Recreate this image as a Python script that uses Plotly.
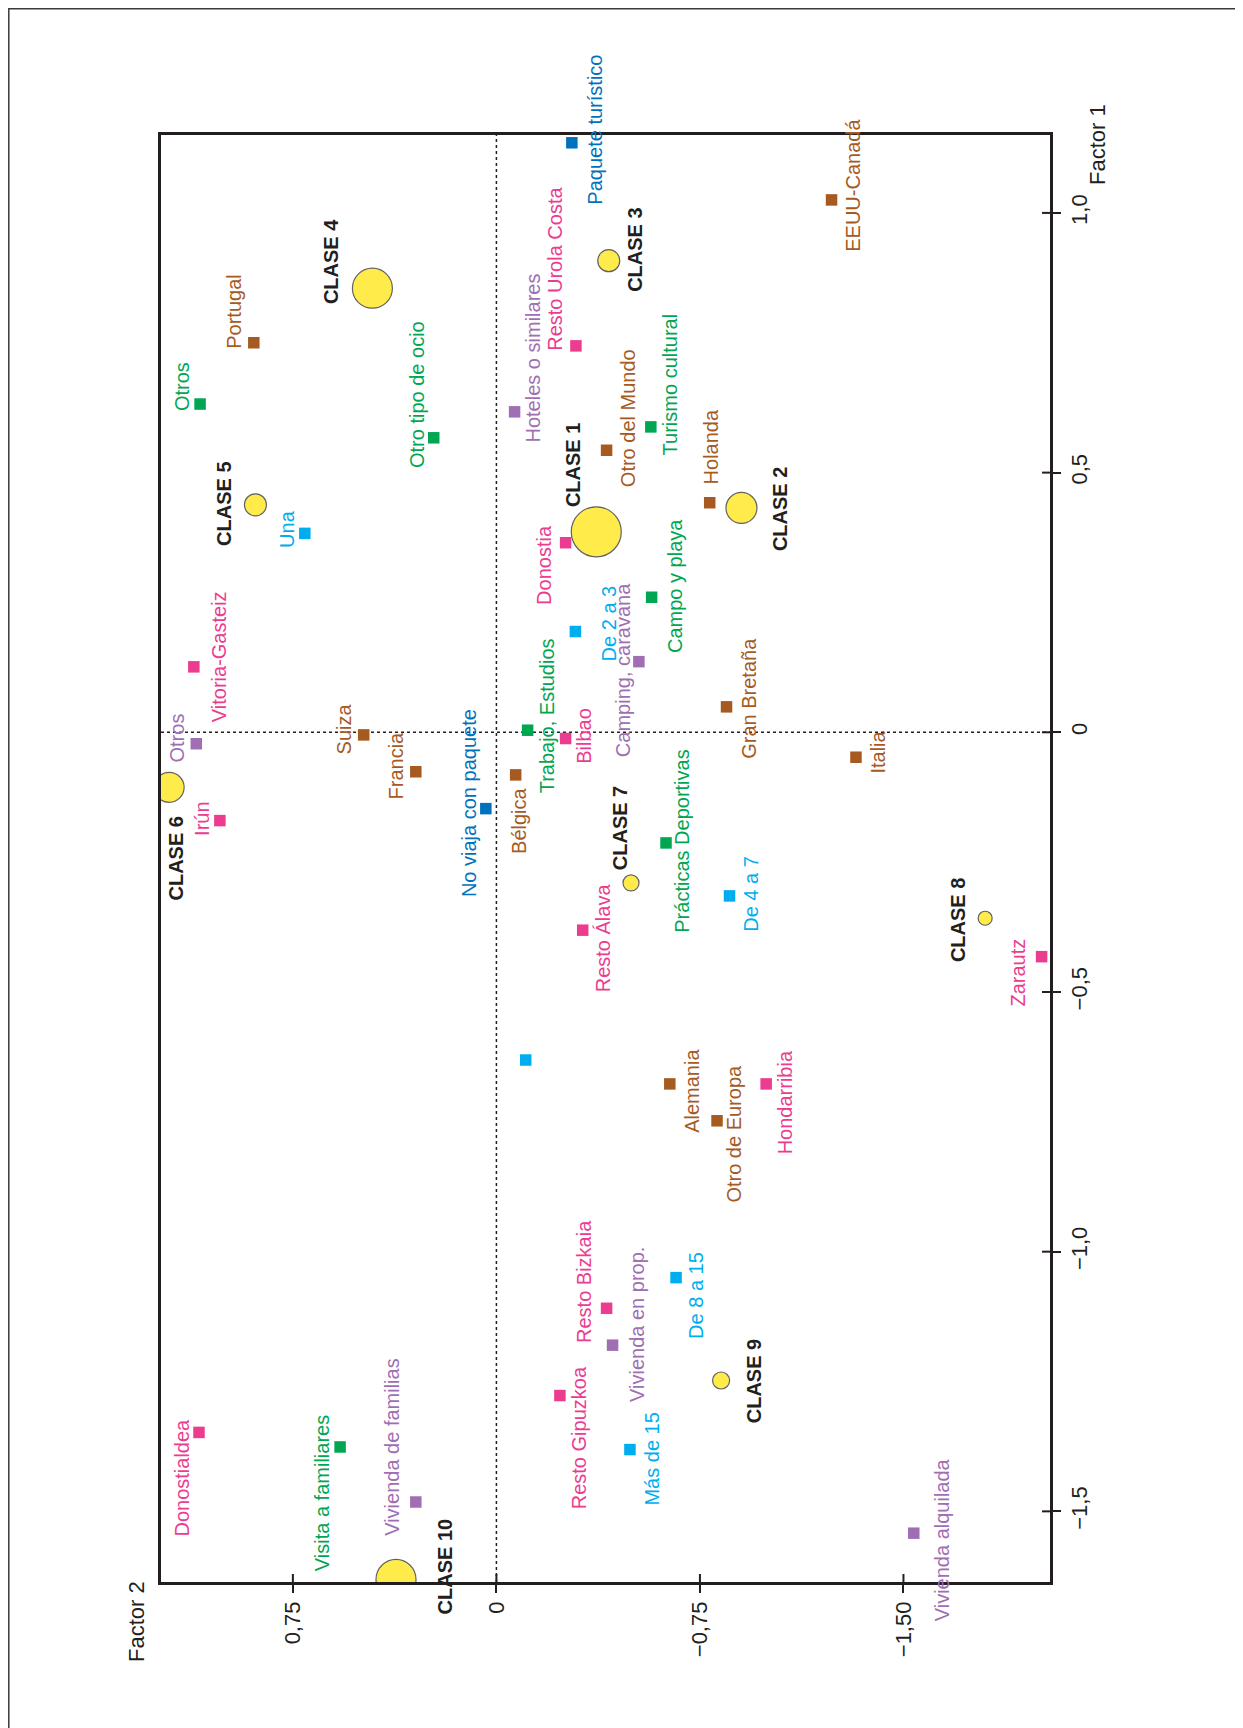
import plotly.graph_objects as go

# ---------------- data ----------------
mod_names = ["Paquete turístico", "Portugal", "Otros", "Otro tipo de ocio", "Hoteles o similares",
             "Resto Urola Costa", "Otro del Mundo", "EEUU-Canadá", "Turismo cultural", "Holanda",
             "Una", "Donostia", "De 2 a 3", "Camping, caravana", "Campo y playa",
             "Vitoria-Gasteiz", "Otros", "Suiza", "Francia", "Irún",
             "No viaja con paquete", "Bélgica", "Trabajo, Estudios", "Bilbao", "Resto Álava",
             "Prácticas Deportivas", "Gran Bretaña", "Italia", "De 4 a 7", "Zarautz",
             "", "Resto Bizkaia", "Vivienda en prop.", "Resto Gipuzkoa", "Alemania",
             "Otro de Europa", "Hondarribia", "De 8 a 15", "Donostialdea", "Visita a familiares",
             "Vivienda de familias", "Más de 15", "Vivienda alquilada"]
mod_factor1 = [1.135, 0.750, 0.632, 0.567, 0.617,
               0.744, 0.543, 1.025, 0.588, 0.442,
               0.383, 0.365, 0.194, 0.136, 0.260,
               0.126, -0.022, -0.005, -0.076, -0.170,
               -0.147, -0.082, 0.004, -0.012, -0.381,
               -0.213, 0.049, -0.048, -0.315, -0.432,
               -0.631, -1.109, -1.180, -1.277, -0.677,
               -0.748, -0.677, -1.050, -1.348, -1.376,
               -1.482, -1.381, -1.542]
mod_factor2 = [-0.278, 0.894, 1.092, 0.231, -0.067,
               -0.293, -0.406, -1.235, -0.569, -0.786,
               0.706, -0.255, -0.291, -0.525, -0.572,
               1.115, 1.106, 0.489, 0.297, 1.019,
               0.039, -0.071, -0.115, -0.255, -0.318,
               -0.625, -0.848, -1.325, -0.859, -2.009,
               -0.108, -0.406, -0.428, -0.234, -0.639,
               -0.813, -0.994, -0.662, 1.096, 0.576,
               0.297, -0.492, -1.538]
mod_group = ["paquete", "destino", "motivo", "motivo", "alojamiento",
             "origen", "destino", "destino", "motivo", "destino",
             "noches", "origen", "noches", "alojamiento", "motivo",
             "origen", "alojamiento", "destino", "destino", "origen",
             "paquete", "destino", "motivo", "origen", "origen",
             "motivo", "destino", "destino", "noches", "origen",
             "noches", "origen", "alojamiento", "origen", "destino",
             "destino", "origen", "noches", "origen", "motivo",
             "alojamiento", "noches", "alojamiento"]

class_names = ["CLASE 1", "CLASE 2", "CLASE 3", "CLASE 4", "CLASE 5",
               "CLASE 6", "CLASE 7", "CLASE 8", "CLASE 9", "CLASE 10"]
class_factor1 = [0.386, 0.432, 0.908, 0.855, 0.438, -0.106, -0.290, -0.358, -1.248, -1.631]
class_factor2 = [-0.368, -0.903, -0.414, 0.457, 0.888, 1.206, -0.496, -1.801, -0.828, 0.370]
class_weight = [50, 31, 22, 40, 22, 30, 16, 14, 17, 40]

f1_ticks = [1.0, 0.5, 0.0, -0.5, -1.0, -1.5]
f1_ticktext = ["1,0", "0,5", "0", "\u22120,5", "\u22121,0", "\u22121,5"]
f2_ticks = [0.75, 0.0, -0.75, -1.5]
f2_ticktext = ["0,75", "0", "\u22120,75", "\u22121,50"]

# ---------------- styles ----------------
group_colors = {"paquete": "#0071BC", "destino": "#A65A1F", "motivo": "#00A651",
                "alojamiento": "#A06EB2", "origen": "#EC3C8F", "noches": "#00AEEF"}
# label offsets (px): dx, dy, anchor ('b' = text starts at dy, 't' = text top at dy)
mod_label_pos = [(23, 63, 'b'), (-20.6, 7.3, 'b'), (-18.2, 7.7, 'b'), (-16.6, 31.6, 'b'), (18.6, 32, 'b'),
                 (-21.7, 5.7, 'b'), (21.3, 38, 'b'), (21.8, 53, 'b'), (18.7, 30, 'b'), (1, -17.5, 'b'),
                 (-18, 15.7, 'b'), (-21.7, 63.3, 'b'), (33.5, 31, 'b'), (-16.4, 96, 'b'), (23.4, 56.7, 'b'),
                 (26, 56, 'b'), (-19.7, 19.7, 'b'), (-20, 20.3, 'b'), (-19.4, 28.3, 'b'), (-18.6, 16, 'b'),
                 (-17, 89.6, 'b'), (3.4, 12, 't'), (19, 64, 'b'), (18.4, 26.3, 'b'), (20.2, 62.7, 'b'),
                 (16, 91.3, 'b'), (22.2, 52.7, 'b'), (22.2, 17.7, 'b'), (21.4, 37, 'b'), (-24, 51.3, 'b'),
                 (0, 0, 'b'), (-22.7, 35.3, 'b'), (23.7, 58, 'b'), (19, 114.3, 'b'), (21.5, 49.6, 'b'),
                 (17.2, 82.6, 'b'), (19, 71.3, 'b'), (20, 62.7, 'b'), (-16.6, 104.7, 'b'), (-17.9, 125, 'b'),
                 (-24, 35, 'b'), (22.6, 57, 'b'), (27.8, 89, 'b')]
class_label_pos = [(-23, -24, 'b'), (38, 43.7, 'b'), (26.4, 32, 'b'), (-40.7, 16.7, 'b'), (-32, 41.7, 'b'),
                   (7, 28, 't'), (-10.7, -12, 'b'), (-27, 44.7, 'b'), (33.7, 44, 'b'), (49, 36, 'b')]

FONT = "Liberation Sans, Arial, Helvetica, sans-serif"
INK = "#231F20"
W, H = 1235, 1720          # page has an 8px body margin
ML, MR, MT, MB = 153, 193, 127, 146
PW, PH = W - ML - MR, H - MT - MB

fig = go.Figure()

# reference dotted lines at 0
fig.add_shape(type="line", xref="x", yref="paper", x0=0, x1=0, y0=0, y1=1,
              line=dict(color=INK, width=1.5, dash="dot"), layer="below")
fig.add_shape(type="line", xref="paper", yref="y", x0=0, x1=1, y0=0, y1=0,
              line=dict(color=INK, width=1.5, dash="dot"), layer="below")

fig.add_trace(go.Scatter(
    x=mod_factor2, y=mod_factor1, mode="markers",
    marker=dict(symbol="square", size=11.5, color=[group_colors[g] for g in mod_group],
                line=dict(width=0)),
    hovertext=mod_names, showlegend=False))

fig.add_trace(go.Scatter(
    x=class_factor2, y=class_factor1, mode="markers",
    marker=dict(symbol="circle", size=class_weight, color="#FFE500",
                line=dict(width=1.2, color=INK)),
    hovertext=class_names, showlegend=False, cliponaxis=True))

def add_label(txt, xv, yv, pos, color, bold=False):
    if not txt:
        return
    dx, dy, anc = pos
    fig.add_annotation(x=xv, y=yv, xref="x", yref="y", text=("<b>%s</b>" % txt) if bold else txt,
                       showarrow=False, textangle=-90, xanchor="center",
                       yanchor="bottom" if anc == "b" else "top",
                       xshift=dx, yshift=-dy, borderpad=0,
                       font=dict(family=FONT, size=20, color=color))

for n, f1, f2, g, p in zip(mod_names, mod_factor1, mod_factor2, mod_group, mod_label_pos):
    add_label(n, f2, f1, p, group_colors[g])
for n, f1, f2, p in zip(class_names, class_factor1, class_factor2, class_label_pos):
    add_label(n, f2, f1, p, INK, bold=True)

# inner halves of the cross ticks
for v in f2_ticks:
    fig.add_shape(type="line", xref="x", yref="paper", x0=v, x1=v, y0=0, y1=8,
                  ysizemode="pixel", yanchor=0, line=dict(color=INK, width=2))
for v in f1_ticks:
    fig.add_shape(type="line", xref="paper", yref="y", y0=v, y1=v, x0=-8, x1=0,
                  xsizemode="pixel", xanchor=1, line=dict(color=INK, width=2))

# outer frame (open at the bottom of the page)
fig.add_shape(type="rect", xref="paper", yref="paper",
              x0=(0.8 - ML) / PW, x1=(1232.6 - ML) / PW,
              y0=(H - MB - 1745) / PH, y1=(H - MB - 0.8) / PH,
              line=dict(color="#3A3A3A", width=1.5), fillcolor="rgba(0,0,0,0)")

# axis titles
fig.add_annotation(xref="paper", yref="paper", x=1, y=1, xshift=47, yshift=-10,
                   text="Factor 1", textangle=-90, showarrow=False, xanchor="center", yanchor="middle",
                   font=dict(family=FONT, size=22, color=INK))
fig.add_annotation(xref="paper", yref="paper", x=0, y=0, xshift=-25, yshift=-40,
                   text="Factor 2", textangle=-90, showarrow=False, xanchor="center", yanchor="middle",
                   font=dict(family=FONT, size=22, color=INK))

fig.update_layout(
    width=W, height=H,
    margin=dict(l=ML, r=MR, t=MT, b=MB, pad=0),
    paper_bgcolor="white", plot_bgcolor="white",
    font=dict(family=FONT, color=INK),
    xaxis=dict(range=[1.236, -2.040], tickvals=f2_ticks, ticktext=f2_ticktext, tickangle=-90,
               ticks="outside", ticklen=8, tickwidth=2, tickcolor=INK,
               tickfont=dict(family=FONT, size=22, color=INK),
               showgrid=False, zeroline=False, showline=True, linewidth=2.5, linecolor=INK,
               mirror=True, fixedrange=True),
    yaxis=dict(range=[-1.636, 1.150], side="right", tickvals=f1_ticks, ticktext=f1_ticktext, tickangle=-90,
               ticks="outside", ticklen=8, tickwidth=2, tickcolor=INK,
               tickfont=dict(family=FONT, size=22, color=INK),
               showgrid=False, zeroline=False, showline=True, linewidth=2.5, linecolor=INK,
               mirror=True, fixedrange=True),
)

fig.write_html("out.html")
